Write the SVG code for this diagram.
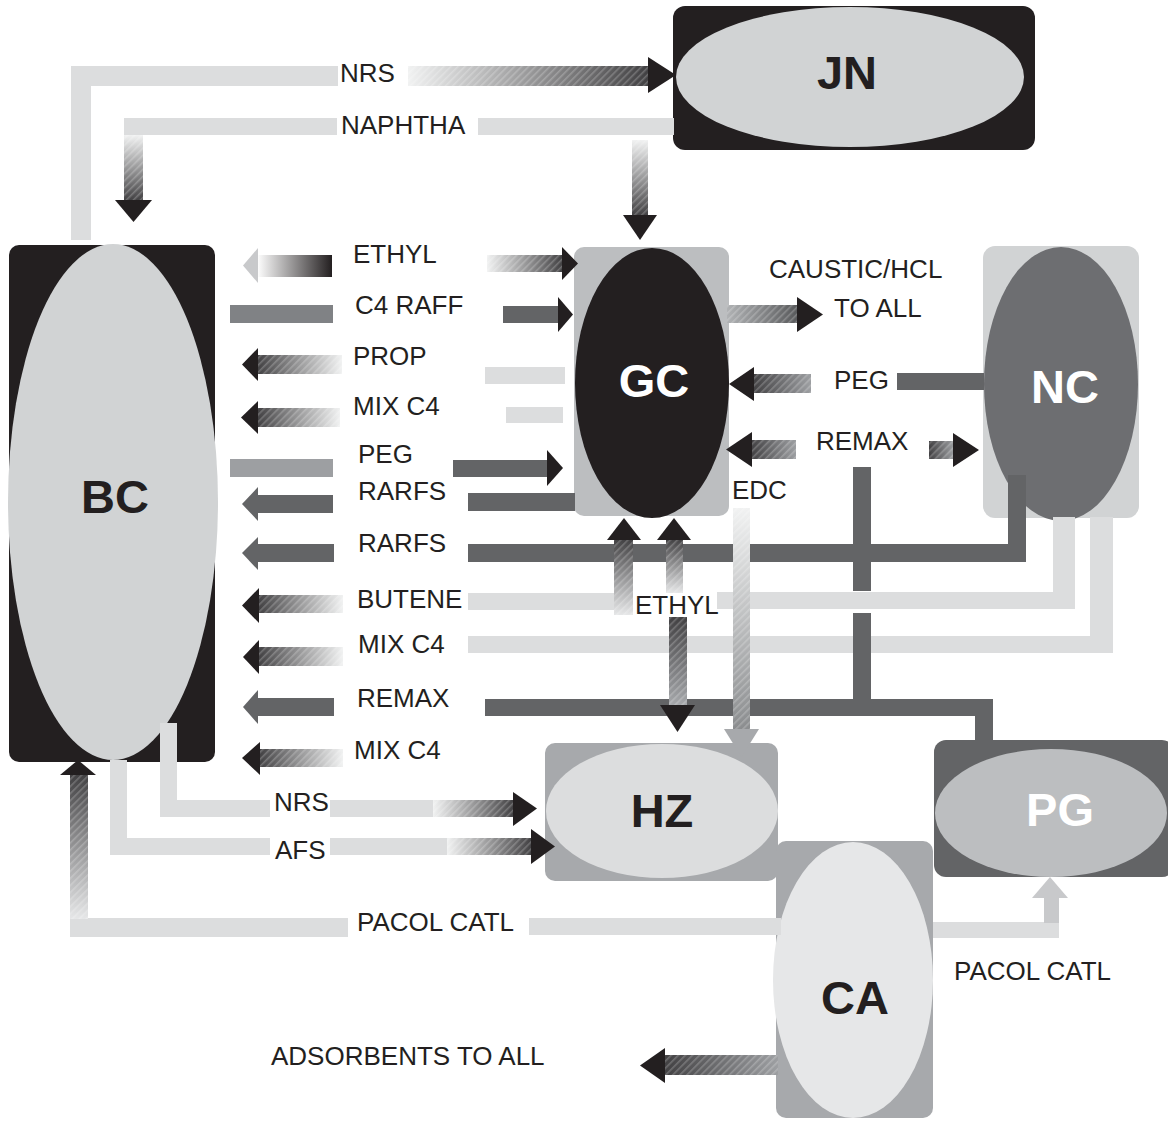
<svg xmlns="http://www.w3.org/2000/svg" width="1168" height="1124" viewBox="0 0 1168 1124">
<defs>
<style>
.lt{fill:#dcddde}
.dk{fill:#636466}
.bk{fill:#231f20}
.lbl{font-family:"Liberation Sans",Arial,sans-serif;font-size:26px;fill:#231f20}
.nl{font-family:"Liberation Sans",Arial,sans-serif;font-size:47px;font-weight:bold;text-anchor:middle}
.h{fill:url(#hatch)}
</style>
<pattern id="hatch" width="5" height="5" patternUnits="userSpaceOnUse" patternTransform="rotate(45)">
<rect width="1.6" height="5" fill="#ffffff" fill-opacity="0.22"/>
</pattern>
<linearGradient id="gRt" x1="0" y1="0" x2="1" y2="0"><stop offset="0" stop-color="#f1f2f2"/><stop offset="1" stop-color="#414042"/></linearGradient>
<linearGradient id="gLt" x1="0" y1="0" x2="1" y2="0"><stop offset="0" stop-color="#414042"/><stop offset="1" stop-color="#f1f2f2"/></linearGradient>
<linearGradient id="gDn" x1="0" y1="0" x2="0" y2="1"><stop offset="0" stop-color="#f1f2f2"/><stop offset="1" stop-color="#414042"/></linearGradient>
<linearGradient id="gUp" x1="0" y1="0" x2="0" y2="1"><stop offset="0" stop-color="#414042"/><stop offset="1" stop-color="#e6e7e8"/></linearGradient>
<linearGradient id="gEthL" x1="0" y1="0" x2="1" y2="0"><stop offset="0" stop-color="#ffffff"/><stop offset="1" stop-color="#231f20"/></linearGradient>
<linearGradient id="gCaus" x1="0" y1="0" x2="1" y2="0"><stop offset="0" stop-color="#b0b2b4"/><stop offset="1" stop-color="#58595b"/></linearGradient>
<linearGradient id="gMidL" x1="0" y1="0" x2="1" y2="0"><stop offset="0" stop-color="#414042"/><stop offset="1" stop-color="#9d9fa2"/></linearGradient>
<linearGradient id="gEdc" x1="0" y1="0" x2="0" y2="1"><stop offset="0" stop-color="#f1f2f2"/><stop offset="1" stop-color="#8a8c8e"/></linearGradient>
<linearGradient id="gEthD" x1="0" y1="0" x2="0" y2="1"><stop offset="0" stop-color="#414042"/><stop offset="1" stop-color="#a7a9ac"/></linearGradient>
</defs>
<rect width="1168" height="1124" fill="#ffffff"/>

<g id="node-JN">
<rect x="673" y="6" width="362" height="144" rx="12" class="bk"/>
<ellipse cx="850" cy="77" rx="174" ry="70" fill="#d1d3d4"/>
<text x="847" y="89" class="nl" fill="#231f20">JN</text>
</g>
<g id="node-BC">
<rect x="9" y="245" width="206" height="517" rx="10" class="bk"/>
<ellipse cx="113" cy="502" rx="105" ry="258" fill="#d1d3d4"/>
<text x="115" y="513" class="nl" fill="#231f20">BC</text>
</g>
<g id="node-GC">
<rect x="574" y="247" width="155" height="269" rx="10" fill="#bcbec0"/>
<ellipse cx="652" cy="383" rx="77" ry="135" class="bk"/>
<text x="654" y="397" class="nl" fill="#ffffff">GC</text>
</g>
<g id="node-NC">
<rect x="983" y="246" width="156" height="272" rx="12" fill="#d1d3d4"/>
<ellipse cx="1061" cy="384" rx="77" ry="137" fill="#6d6e71"/>
<text x="1065" y="403" class="nl" fill="#ffffff">NC</text>
</g>
<g id="node-HZ">
<rect x="545" y="743" width="233" height="138" rx="10" fill="#a7a9ac"/>
<ellipse cx="662" cy="811" rx="116" ry="67" fill="#dcddde"/>
<text x="662" y="827" class="nl" fill="#231f20">HZ</text>
</g>
<g id="node-PG">
<rect x="934" y="740" width="240" height="137" rx="12" fill="#636466"/>
<ellipse cx="1051" cy="813" rx="116" ry="64" fill="#bcbec0"/>
<text x="1060" y="826" class="nl" fill="#ffffff">PG</text>
</g>
<g id="node-CA">
<rect x="776" y="841" width="157" height="277" rx="10" fill="#a7a9ac"/>
<ellipse cx="853" cy="980" rx="80" ry="138" fill="#e6e7e8"/>
<text x="855" y="1014" class="nl" fill="#231f20">CA</text>
</g>

<g id="connectors">
<!-- NRS top: BC -> JN -->
<path d="M81,240 V76 H338" fill="none" stroke="#dcddde" stroke-width="20"/>
<rect x="408" y="66" width="241" height="20" fill="url(#gRt)"/><rect x="408" y="66" width="241" height="20" class="h"/>
<path d="M648,57 L676,75 L648,93 Z" class="bk"/>
<text x="340" y="82" class="lbl">NRS</text>
<!-- NAPHTHA: JN -> BC, JN -> GC -->
<rect x="124" y="118" width="213" height="17" class="lt"/>
<rect x="478" y="118" width="196" height="17" class="lt"/>
<rect x="124" y="135" width="19" height="66" fill="url(#gDn)"/><rect x="124" y="135" width="19" height="66" class="h"/>
<path d="M115,200 L152,200 L133.5,222 Z" class="bk"/>
<rect x="632" y="140" width="16" height="76" fill="url(#gDn)"/><rect x="632" y="140" width="16" height="76" class="h"/>
<path d="M623,215 L657,215 L640,240 Z" class="bk"/>
<text x="341" y="134" class="lbl">NAPHTHA</text>

<!-- ETHYL -->
<rect x="257" y="255" width="75" height="22" fill="url(#gEthL)"/>
<path d="M258,248 L243,265.5 L258,283 Z" fill="#c8c9cb"/>
<rect x="487" y="255" width="76" height="17" fill="url(#gRt)"/><rect x="487" y="255" width="76" height="17" class="h"/>
<path d="M562,247 L578,263.5 L562,280 Z" class="bk"/>
<text x="353" y="263" class="lbl">ETHYL</text>
<!-- C4 RAFF -->
<rect x="230" y="305" width="103" height="18" fill="#808285"/>
<rect x="503" y="306" width="56" height="17" class="dk"/>
<path d="M558,297 L573,314.5 L558,332 Z" class="bk"/>
<text x="355" y="314" class="lbl">C4 RAFF</text>
<!-- PROP -->
<rect x="257" y="355" width="85" height="19" fill="url(#gLt)"/><rect x="257" y="355" width="85" height="19" class="h"/>
<path d="M258,348 L242,364.5 L258,381 Z" class="bk"/>
<rect x="485" y="367" width="80" height="17" class="lt"/>
<text x="353" y="365" class="lbl">PROP</text>
<!-- MIX C4 (1) -->
<rect x="257" y="408" width="83" height="19" fill="url(#gLt)"/><rect x="257" y="408" width="83" height="19" class="h"/>
<path d="M258,401 L241,417.5 L258,434 Z" class="bk"/>
<rect x="506" y="407" width="57" height="16" class="lt"/>
<text x="353" y="415" class="lbl">MIX C4</text>
<!-- PEG left -->
<rect x="230" y="459" width="103" height="18" fill="#9d9fa2"/>
<rect x="453" y="460" width="95" height="17" class="dk"/>
<path d="M547,450 L563,468 L547,486 Z" class="bk"/>
<text x="358" y="463" class="lbl">PEG</text>
<!-- RARFS (1) -->
<rect x="257" y="495" width="76" height="18" class="dk"/>
<path d="M258,487 L242,504 L258,521 Z" class="dk"/>
<rect x="468" y="493" width="107" height="18" class="dk"/>
<text x="358" y="500" class="lbl">RARFS</text>
<!-- RARFS (2) from NC -->
<rect x="257" y="544" width="77" height="18" class="dk"/>
<path d="M258,537 L242,553 L258,570 Z" class="dk"/>
<rect x="468" y="544" width="558" height="18" class="dk"/>
<rect x="1008" y="475" width="18" height="87" class="dk"/>
<text x="358" y="552" class="lbl">RARFS</text>
<!-- BUTENE from NC -->
<rect x="258" y="595" width="85" height="18" fill="url(#gLt)"/><rect x="258" y="595" width="85" height="18" class="h"/>
<path d="M259,588 L242,605.5 L259,623 Z" class="bk"/>
<rect x="468" y="593" width="165" height="17" class="lt"/>
<rect x="717" y="592" width="358" height="17" class="lt"/>
<rect x="1053" y="517" width="22" height="92" class="lt"/>
<text x="357" y="608" class="lbl">BUTENE</text>
<!-- MIX C4 (2) from NC -->
<rect x="258" y="647" width="85" height="19" fill="url(#gLt)"/><rect x="258" y="647" width="85" height="19" class="h"/>
<path d="M259,640 L243,657 L259,674 Z" class="bk"/>
<rect x="468" y="636" width="645" height="17" class="lt"/>
<rect x="1090" y="517" width="23" height="136" class="lt"/>
<text x="358" y="653" class="lbl">MIX C4</text>
<!-- REMAX -->
<rect x="257" y="698" width="77" height="18" class="dk"/>
<path d="M258,690 L243,707 L258,724 Z" class="dk"/>
<rect x="485" y="699" width="508" height="17" class="dk"/>
<rect x="975" y="699" width="18" height="41" class="dk"/>
<rect x="853" y="467" width="18" height="124" class="dk"/>
<rect x="853" y="613" width="18" height="103" class="dk"/>
<text x="357" y="707" class="lbl">REMAX</text>
<!-- MIX C4 (3) -->
<rect x="259" y="749" width="84" height="18" fill="url(#gLt)"/><rect x="259" y="749" width="84" height="18" class="h"/>
<path d="M260,742 L242,758 L260,775 Z" class="bk"/>
<text x="354" y="759" class="lbl">MIX C4</text>

<!-- CAUSTIC/HCL TO ALL -->
<rect x="727" y="305" width="71" height="18" fill="url(#gCaus)"/><rect x="727" y="305" width="71" height="18" class="h"/>
<path d="M797,297 L823,314.5 L797,332 Z" class="bk"/>
<text x="769" y="278" class="lbl">CAUSTIC/HCL</text>
<text x="834" y="317" class="lbl">TO ALL</text>
<!-- PEG NC -> GC -->
<rect x="897" y="373" width="87" height="17" class="dk"/>
<rect x="753" y="374" width="58" height="19" fill="url(#gMidL)"/><rect x="753" y="374" width="58" height="19" class="h"/>
<path d="M754,367 L729,384 L754,401 Z" class="bk"/>
<text x="834" y="389" class="lbl">PEG</text>
<!-- REMAX GC <-> NC -->
<rect x="751" y="440" width="45" height="19" fill="url(#gMidL)"/><rect x="751" y="440" width="45" height="19" class="h"/>
<path d="M752,432 L726,449.5 L752,467 Z" class="bk"/>
<rect x="929" y="441" width="25" height="18" fill="url(#gMidL)"/><rect x="929" y="441" width="25" height="18" class="h"/>
<path d="M953,433 L979,450 L953,467 Z" class="bk"/>
<text x="816" y="450" class="lbl">REMAX</text>
<!-- EDC GC -> HZ -->
<rect x="733" y="508" width="17" height="223" fill="url(#gEdc)"/><rect x="733" y="508" width="17" height="223" class="h"/>
<path d="M724,729 L759,729 L741.5,757 Z" fill="#a7a9ac"/>
<text x="732" y="499" class="lbl">EDC</text>
<!-- ETHYL up into GC, down into HZ -->
<rect x="614" y="539" width="19" height="76" fill="url(#gUp)"/><rect x="614" y="539" width="19" height="76" class="h"/>
<path d="M607,540 L641,540 L624,518 Z" class="bk"/>
<rect x="666" y="539" width="17" height="54" fill="url(#gUp)"/><rect x="666" y="539" width="17" height="54" class="h"/>
<path d="M657,540 L691,540 L674,518 Z" class="bk"/>
<rect x="669" y="617" width="18" height="89" fill="url(#gEthD)"/><rect x="669" y="617" width="18" height="89" class="h"/>
<path d="M660,705 L695,705 L677.5,732 Z" class="bk"/>
<text x="635" y="614" class="lbl">ETHYL</text>

<!-- NRS bottom BC -> HZ -->
<path d="M168.5,723 V808.5 H270" fill="none" stroke="#dcddde" stroke-width="17"/>
<rect x="330" y="800" width="103" height="17" class="lt"/>
<rect x="433" y="800" width="81" height="17" fill="url(#gRt)"/><rect x="433" y="800" width="81" height="17" class="h"/>
<path d="M513,792 L537,808.5 L513,826 Z" class="bk"/>
<text x="274" y="811" class="lbl">NRS</text>
<!-- AFS BC -> HZ -->
<path d="M118.5,760 V846.5 H270" fill="none" stroke="#dcddde" stroke-width="17"/>
<rect x="330" y="838" width="117" height="17" class="lt"/>
<rect x="447" y="838" width="85" height="17" fill="url(#gRt)"/><rect x="447" y="838" width="85" height="17" class="h"/>
<path d="M531,829 L555,846.5 L531,864 Z" class="bk"/>
<text x="275" y="859" class="lbl">AFS</text>
<!-- PACOL CATL CA -> BC -->
<rect x="70" y="918" width="278" height="19" class="lt"/>
<rect x="529" y="918" width="252" height="17" class="lt"/>
<rect x="70" y="774" width="18" height="145" fill="url(#gUp)"/><rect x="70" y="774" width="18" height="145" class="h"/>
<path d="M60,775 L96,775 L78,760 Z" class="bk"/>
<text x="357" y="931" class="lbl">PACOL CATL</text>
<!-- PACOL CATL CA -> PG -->
<rect x="933" y="922" width="126" height="16" class="lt"/>
<rect x="1044" y="897" width="15" height="26" fill="#c8c9cb"/>
<path d="M1032,898 L1068,898 L1050,877 Z" fill="#c8c9cb"/>
<text x="954" y="980" class="lbl">PACOL CATL</text>
<!-- ADSORBENTS TO ALL -->
<rect x="664" y="1055" width="114" height="20" fill="url(#gMidL)"/><rect x="664" y="1055" width="114" height="20" class="h"/>
<path d="M665,1048 L640,1065.5 L665,1083 Z" class="bk"/>
<text x="271" y="1065" class="lbl">ADSORBENTS TO ALL</text>
</g>
</svg>
